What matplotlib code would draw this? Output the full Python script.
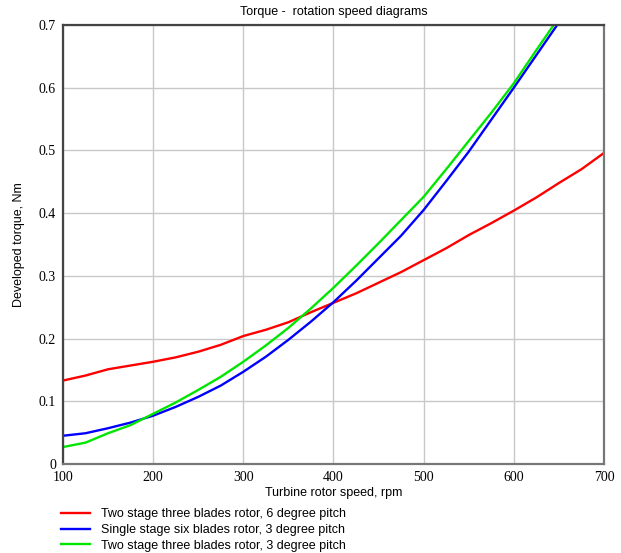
import numpy as np
import matplotlib
matplotlib.use('Agg')
import matplotlib.pyplot as plt

# rotation speed, rpm
rpm = [100, 125, 150, 175, 200, 225, 250, 275, 300, 325, 350, 375, 400,
       425, 450, 475, 500, 525, 550, 575, 600, 625, 650, 675, 700]

# developed torque, Nm
torque_2stage_6deg = [0.133, 0.141, 0.151, 0.157, 0.163, 0.170, 0.179, 0.190, 0.204,
                      0.214, 0.226, 0.242, 0.257, 0.272, 0.289, 0.306, 0.325, 0.344,
                      0.365, 0.384, 0.404, 0.425, 0.448, 0.470, 0.496]
torque_1stage_3deg = [0.045, 0.049, 0.057, 0.066, 0.077, 0.091, 0.107, 0.125, 0.147,
                      0.171, 0.198, 0.227, 0.258, 0.292, 0.328, 0.364, 0.405, 0.451,
                      0.498, 0.549, 0.600, 0.652, 0.704]
torque_2stage_3deg = [0.027, 0.034, 0.049, 0.062, 0.080, 0.098, 0.118, 0.139, 0.163,
                      0.189, 0.217, 0.248, 0.281, 0.316, 0.352, 0.389, 0.426, 0.470,
                      0.515, 0.560, 0.607, 0.660, 0.712]

labels = ["Two stage three blades rotor, 6 degree pitch",
          "Single stage six blades rotor, 3 degree pitch",
          "Two stage three blades rotor, 3 degree pitch"]

sans = 'Liberation Sans'
serif = 'Liberation Serif'

fig = plt.figure(figsize=(6.21, 5.53), dpi=100)
ax = fig.add_axes([0.1014, 0.161, 0.8712, 0.7938])

ax.plot(rpm, torque_2stage_6deg, color='#ff0000', lw=1.7, label=labels[0])
ax.plot(rpm[:len(torque_1stage_3deg)], torque_1stage_3deg, color='#0000ff', lw=1.7, label=labels[1])
ax.plot(rpm[:len(torque_2stage_3deg)], torque_2stage_3deg, color='#00e600', lw=1.7, label=labels[2])

ax.set_xlim(100, 700)
ax.set_ylim(0, 0.7)
ax.set_xticks(np.arange(100, 701, 100))
ax.set_yticks(np.arange(0, 0.71, 0.1))
ax.set_xticklabels([str(v) for v in range(100, 701, 100)])
ax.set_yticklabels(['0', '0.1', '0.2', '0.3', '0.4', '0.5', '0.6', '0.7'])
ax.tick_params(length=0, pad=5, labelsize=10)
for lab in ax.get_xticklabels() + ax.get_yticklabels():
    lab.set_family(serif)
ax.grid(True, color='#c8c8c8', lw=1)
ax.set_axisbelow(True)
for side in ['left', 'top']:
    ax.spines[side].set_color('#444444')
    ax.spines[side].set_linewidth(1.6)
for side in ['right', 'bottom']:
    ax.spines[side].set_color('#777777')
    ax.spines[side].set_linewidth(1.6)

ax.set_title('Torque -  rotation speed diagrams', family=sans, fontsize=9, pad=7)
ax.set_xlabel('Turbine rotor speed, rpm', family=sans, fontsize=9, labelpad=2)
ax.set_ylabel('Developed torque, Nm', family=sans, fontsize=9, labelpad=10)

fig.legend(loc='upper left', bbox_to_anchor=(0.09, 0.09), frameon=False,
           prop={'family': sans, 'size': 9}, handlelength=2.3, handletextpad=0.9,
           labelspacing=0.3, borderaxespad=0)

fig.savefig('out.png', dpi=100)
